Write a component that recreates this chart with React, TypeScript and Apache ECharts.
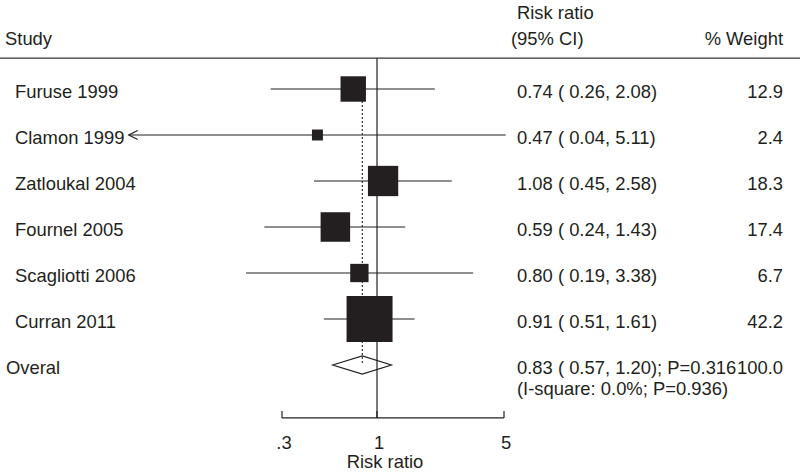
import React, { useEffect, useRef } from "react";
import * as echarts from "echarts";

// ---- data ----
const studies = ["Furuse 1999", "Clamon 1999", "Zatloukal 2004", "Fournel 2005", "Scagliotti 2006", "Curran 2011"];
const riskRatio = [0.74, 0.47, 1.08, 0.59, 0.8, 0.91];
const ciLower = [0.26, 0.04, 0.45, 0.24, 0.19, 0.51];
const ciUpper = [2.08, 5.11, 2.58, 1.43, 3.38, 1.61];
const weights = [12.9, 2.4, 18.3, 17.4, 6.7, 42.2];

const overallLabel = "Overal";
const overallRR = 0.83;
const overallLower = 0.57;
const overallUpper = 1.2;
const overallP = "0.316";
const overallWeight = 100.0;
const heterogeneity = "(I-square: 0.0%; P=0.936)";

const tickValues = [0.3, 1, 5];
const tickLabels = [".3", "1", "5"];
const axisTitle = "Risk ratio";

// ---- layout / style ----
const FONT = "'Liberation Sans', Arial, Helvetica, sans-serif";
const FS = 18.4;
const INK = "#231f20";
const SQUARE_K = 7.08; // px per sqrt(weight)
const HEADER_ROW = -0.67;
const AXIS_ROW = 7.15;
const ARROW_CLIP = 0.043; // left display limit for CIs beyond plot
const X_STUDY = 15;
const X_OVERALL = 6;
const X_CI = 517;
const X_WEIGHT = 783;
const TEXT_DY = 2;

const fmt = (v: number) => v.toFixed(2);

export default function App() {
  const ref = useRef<HTMLDivElement>(null);

  useEffect(() => {
    if (!ref.current) return;
    const chart = echarts.init(ref.current, undefined, { renderer: "svg" });

    const studyData = studies.map((_, i) => [riskRatio[i], ciLower[i], ciUpper[i], weights[i], i]);
    const overallRow = studies.length;

    const textStyle = (text: string, x: number, y: number, align: string = "left") => ({
      type: "text",
      style: {
        text,
        x,
        y,
        fill: INK,
        font: `${FS}px ${FONT}`,
        align,
        verticalAlign: "middle",
      },
    });

    const option: any = {
      animation: false,
      backgroundColor: "#ffffff",
      grid: { left: 13.6, right: 59.6, top: 20, bottom: 15, containLabel: false },
      xAxis: { type: "log", logBase: 10, min: 0.01, max: 100, show: false },
      yAxis: { type: "value", inverse: true, min: -1.5, max: 8, show: false },
      graphic: [
        textStyle("Risk ratio", 517, 12),
        textStyle("Study", 5, 38),
        textStyle("(95% CI)", 511, 38),
        textStyle("% Weight", X_WEIGHT, 38, "right"),
      ],
      series: [
        // frame: header rule, reference line at 1, dotted overall line, axis
        {
          type: "custom",
          z: 1,
          silent: true,
          data: [[1, overallRR]],
          encode: { x: 0 },
          renderItem: (params: any, api: any) => {
            const yHeader = api.coord([1, HEADER_ROW])[1];
            const yAxis = api.coord([1, AXIS_ROW])[1];
            const x1 = api.coord([1, 0])[0];
            const ov = api.coord([api.value(1), 0]);
            const ovEnd = api.coord([api.value(1), overallRow]);
            const children: any[] = [
              { type: "line", shape: { x1: 0, y1: yHeader, x2: 800, y2: yHeader }, style: { stroke: "#333", lineWidth: 1.2 } },
              { type: "line", shape: { x1, y1: yHeader, x2: x1, y2: yAxis }, style: { stroke: INK, lineWidth: 1.2 } },
              { type: "line", shape: { x1: ov[0], y1: ov[1], x2: ovEnd[0], y2: ovEnd[1] }, style: { stroke: INK, lineWidth: 1.1, lineDash: [2, 2] } },
            ];
            const a0 = api.coord([tickValues[0], AXIS_ROW]);
            const a1 = api.coord([tickValues[tickValues.length - 1], AXIS_ROW]);
            children.push({ type: "line", shape: { x1: a0[0], y1: a0[1], x2: a1[0], y2: a1[1] }, style: { stroke: INK, lineWidth: 1.2 } });
            tickValues.forEach((t, k) => {
              const p = api.coord([t, AXIS_ROW]);
              children.push({ type: "line", shape: { x1: p[0], y1: p[1], x2: p[0], y2: p[1] - 7 }, style: { stroke: INK, lineWidth: 1.2 } });
              children.push(textStyle(tickLabels[k], p[0] + 2, p[1] + 25, "center"));
            });
            children.push(textStyle(axisTitle, (a0[0] + a1[0]) / 2 - 8, a0[1] + 44, "center"));
            return { type: "group", children };
          },
        },
        // CI lines + labels
        {
          type: "custom",
          z: 2,
          silent: true,
          data: studyData,
          encode: { x: [0, 1, 2], y: 4 },
          renderItem: (params: any, api: any) => {
            const i = params.dataIndex;
            const row = api.value(4);
            const lo = api.value(1);
            const hi = api.value(2);
            const clipped = lo < ARROW_CLIP;
            const pLo = api.coord([clipped ? ARROW_CLIP : lo, row]);
            const pHi = api.coord([hi, row]);
            const children: any[] = [
              { type: "line", shape: { x1: pLo[0], y1: pLo[1], x2: pHi[0], y2: pHi[1] }, style: { stroke: INK, lineWidth: 1.2 } },
            ];
            if (clipped) {
              children.push({
                type: "polyline",
                shape: { points: [[pLo[0] + 9, pLo[1] - 4.5], [pLo[0], pLo[1]], [pLo[0] + 9, pLo[1] + 4.5]] },
                style: { stroke: INK, lineWidth: 1.2, fill: "none" },
              });
            }
            const y = pLo[1] + TEXT_DY;
            children.push(textStyle(studies[i], X_STUDY, y));
            children.push(textStyle(`${fmt(api.value(0))} ( ${fmt(lo)}, ${fmt(hi)})`, X_CI, y));
            children.push(textStyle(api.value(3).toFixed(1), X_WEIGHT, y, "right"));
            return { type: "group", children };
          },
        },
        // squares
        {
          type: "custom",
          z: 3,
          silent: true,
          data: studyData,
          encode: { x: 0, y: 4 },
          renderItem: (params: any, api: any) => {
            const c = api.coord([api.value(0), api.value(4)]);
            const s = SQUARE_K * Math.sqrt(api.value(3));
            return { type: "rect", shape: { x: c[0] - s / 2, y: c[1] - s / 2, width: s, height: s }, style: { fill: INK } };
          },
        },
        // overall diamond + text
        {
          type: "custom",
          z: 4,
          silent: true,
          data: [[overallRR, overallLower, overallUpper, overallWeight, overallRow]],
          encode: { x: [0, 1, 2], y: 4 },
          renderItem: (params: any, api: any) => {
            const row = api.value(4);
            const c = api.coord([api.value(0), row]);
            const l = api.coord([api.value(1), row]);
            const r = api.coord([api.value(2), row]);
            const h = 9;
            const y = c[1] + TEXT_DY;
            return {
              type: "group",
              children: [
                {
                  type: "polygon",
                  shape: { points: [[l[0], c[1]], [c[0], c[1] - h], [r[0], c[1]], [c[0], c[1] + h]] },
                  style: { stroke: INK, lineWidth: 1.2, fill: "none" },
                },
                textStyle(overallLabel, X_OVERALL, y),
                textStyle(`${fmt(api.value(0))} ( ${fmt(api.value(1))}, ${fmt(api.value(2))}); P=${overallP}`, X_CI, y),
                textStyle(api.value(3).toFixed(1), X_WEIGHT, y, "right"),
                textStyle(heterogeneity, X_CI, y + 21),
              ],
            };
          },
        },
      ],
    };

    chart.setOption(option);
    return () => chart.dispose();
  }, []);

  return <div ref={ref} style={{ position: "fixed", left: 0, top: 0, width: 800, height: 472 }} />;
}
